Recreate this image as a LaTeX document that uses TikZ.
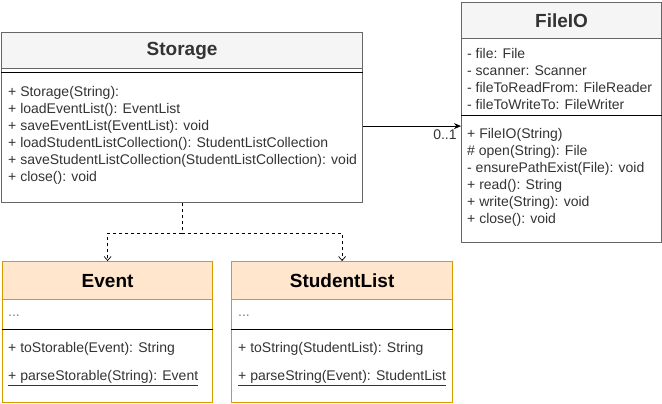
\documentclass[tikz,border=0pt]{standalone}
\usepackage{fontspec}
\setmainfont{Liberation Sans}
\usetikzlibrary{arrows.meta}
\definecolor{umlgray}{HTML}{666666}
\definecolor{headgray}{HTML}{F5F5F5}
\definecolor{titlegray}{HTML}{333333}
\definecolor{umlorange}{HTML}{D79B00}
\definecolor{headorange}{HTML}{FFE6CC}

\begin{document}
\begin{tikzpicture}[x=1pt, y=-1pt,
    classbox/.style={rectangle, draw=umlgray, fill=white, line width=1.2pt,
                     anchor=north west, inner sep=0pt},
    classhead/.style={classbox, fill=headgray, text=titlegray,
                      font=\fontsize{19}{22}\selectfont\bfseries},
    orangebox/.style={classbox, draw=umlorange},
    orangehead/.style={classhead, draw=umlorange, fill=headorange, text=black},
    member/.style={anchor=base west, inner sep=0pt, text=titlegray,
                   font=\fontsize{14}{16}\selectfont},
    sepline/.style={draw=black, line width=0.9pt},
    assoc/.style={-{Stealth[length=7pt, width=6pt]}, line width=0.8pt},
    dependency/.style={-{Straight Barb[length=4pt, width=7pt]}, dashed, line width=0.7pt}
]
\useasboundingbox (0,0) rectangle (662,404);

% Classe Storage
\node[classbox, minimum width=361pt, minimum height=170pt] at (1,32) (storage) {};
\node[classhead, minimum width=361pt, minimum height=36pt] at (1,32) (storageHead) {Storage};
\draw[sepline] (storage.west |- 0,72) -- (storage.east |- 0,72);
\foreach \txt [count=\i] in {+ Storage(String):, + loadEventList(): EventList,
    + saveEventList(EventList): void, + loadStudentListCollection(): StudentListCollection,
    + saveStudentListCollection(StudentListCollection): void, + close(): void} {
    \node[member] at (8, 79.8+16.9*\i) (storageM\i) {\txt};
}

% Classe FileIO
\node[classbox, minimum width=200pt, minimum height=240pt] at (461,2) (fileIO) {};
\node[classhead, minimum width=200pt, minimum height=36pt] at (461,2) (fileIOHead) {FileIO};
\draw[sepline] (fileIO.west |- 0,115) -- (fileIO.east |- 0,115);
\foreach \txt [count=\i] in {- file: File, - scanner: Scanner,
    - fileToReadFrom: FileReader, - fileToWriteTo: FileWriter} {
    \node[member] at (467, 42+17*\i) (fileIOA\i) {\txt};
}
\foreach \txt [count=\i] in {+ FileIO(String), \# open(String): File,
    - ensurePathExist(File): void, + read(): String, + write(String): void, + close(): void} {
    \node[member] at (467, 121.3+17*\i) (fileIOM\i) {\txt};
}

% Classi Event e StudentList
\node[orangebox, minimum width=210pt, minimum height=141pt] at (2,261) (event) {};
\node[orangehead, minimum width=210pt, minimum height=38pt] at (2,261) (eventHead) {Event};
\draw[sepline] (event.west |- 0,329) -- (event.east |- 0,329);
\node[member, text=gray] at (8,316) (eventA) {...};
\node[member] at (8,352.7) (eventM1) {+ toStorable(Event): String};
\node[member] at (8,380.7) (eventM2) {\underline{+ parseStorable(String): Event}};

\node[orangebox, minimum width=221pt, minimum height=141pt] at (231,261) (studentList) {};
\node[orangehead, minimum width=221pt, minimum height=38pt] at (231,261) (studentListHead) {StudentList};
\draw[sepline] (studentList.west |- 0,329) -- (studentList.east |- 0,329);
\node[member, text=gray] at (238,316) (studentListA) {...};
\node[member] at (238,352.7) (studentListM1) {+ toString(StudentList): String};
\node[member] at (238,380.7) (studentListM2) {\underline{+ parseString(Event): StudentList}};

% Associazione e dipendenze
\draw[assoc] ([yshift=-8.5pt]storage.east) -- ([yshift=-8.5pt]storage.east -| fileIO.west)
    node[member, anchor=north east, xshift=-4pt, yshift=-3pt] (mult) {0..1};
\coordinate (split) at ([yshift=-30pt]storage.south);
\draw[dependency] (storage.south) -- (split) -| (eventHead.north);
\draw[dependency] (split) -| (studentListHead.north);

\end{tikzpicture}
\end{document}
